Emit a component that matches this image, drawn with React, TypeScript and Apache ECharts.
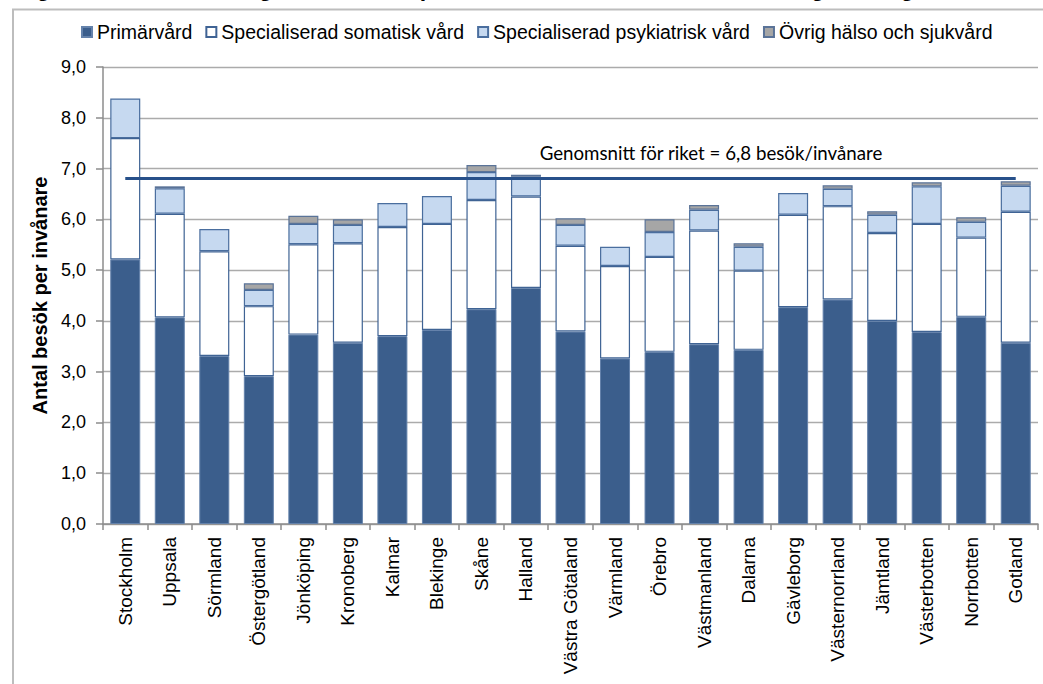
import React, { useEffect, useRef } from "react";
import * as echarts from "echarts";

// Landsting / regioner
const categories = [
  "Stockholm", "Uppsala", "Sörmland", "Östergötland", "Jönköping", "Kronoberg",
  "Kalmar", "Blekinge", "Skåne", "Halland", "Västra Götaland", "Värmland",
  "Örebro", "Västmanland", "Dalarna", "Gävleborg", "Västernorrland", "Jämtland",
  "Västerbotten", "Norrbotten", "Gotland",
];

// Antal besök per invånare, per vårdområde
const primarvard = [5.21, 4.07, 3.31, 2.91, 3.73, 3.57, 3.70, 3.82, 4.23, 4.65, 3.79, 3.26, 3.39, 3.54, 3.43, 4.27, 4.42, 4.00, 3.78, 4.08, 3.57];
const somatisk = [2.39, 2.04, 2.06, 1.38, 1.78, 1.96, 2.15, 2.09, 2.15, 1.80, 1.69, 1.82, 1.87, 2.24, 1.56, 1.82, 1.84, 1.73, 2.13, 1.56, 2.58];
const psykiatrisk = [0.78, 0.50, 0.44, 0.32, 0.40, 0.36, 0.47, 0.55, 0.55, 0.39, 0.41, 0.38, 0.49, 0.41, 0.47, 0.43, 0.34, 0.36, 0.74, 0.31, 0.51];
const ovrig = [null, 0.04, null, 0.13, 0.16, 0.11, null, null, 0.14, 0.04, 0.13, null, 0.25, 0.09, 0.07, null, 0.07, 0.07, 0.08, 0.09, 0.09];

const seriesNames = [
  "Primärvård",
  "Specialiserad somatisk vård",
  "Specialiserad psykiatrisk vård",
  "Övrig hälso och sjukvård",
];

const rikssnitt = 6.8;
const yTicks = { min: 0, max: 9, interval: 1 };

const FONT = "'Liberation Sans', Arial, sans-serif";

export default function App() {
  const ref = useRef<HTMLDivElement>(null);

  useEffect(() => {
    if (!ref.current) return;
    const chart = echarts.init(ref.current, null, { renderer: "svg" });

    const barBase = {
      type: "bar" as const,
      stack: "besok",
      barWidth: 30,
    };

    chart.setOption({
      animation: false,
      backgroundColor: "#ffffff",
      textStyle: { fontFamily: FONT },
      legend: {
        left: 76,
        top: 17,
        icon: "rect",
        itemWidth: 10,
        itemHeight: 10,
        itemGap: 13,
        textStyle: { fontSize: 19.5, color: "#000", fontFamily: FONT },
        data: seriesNames,
      },
      grid: { left: 103, right: 5, top: 67, bottom: 160, containLabel: false },
      xAxis: {
        type: "category",
        data: categories,
        axisLine: { lineStyle: { color: "#8c8c8c", width: 1.5 } },
        axisTick: { show: true, length: 6, lineStyle: { color: "#8c8c8c", width: 1.5 } },
        axisLabel: { rotate: 90, margin: 13, fontSize: 19, color: "#000", fontFamily: FONT, interval: 0 },
      },
      yAxis: {
        type: "value",
        min: yTicks.min,
        max: yTicks.max,
        interval: yTicks.interval,
        name: "Antal besök per invånare",
        nameLocation: "middle",
        nameGap: 49,
        nameTextStyle: { fontSize: 20, fontWeight: "bold", color: "#000", fontFamily: FONT },
        axisLine: { show: true, lineStyle: { color: "#8c8c8c", width: 1.5 } },
        axisTick: { show: true, length: 7, lineStyle: { color: "#8c8c8c", width: 1.5 } },
        axisLabel: {
          margin: 17,
          fontSize: 18,
          color: "#000",
          fontFamily: FONT,
          formatter: (v: number) => v.toFixed(1).replace(".", ","),
        },
        splitLine: { show: true, lineStyle: { color: "#ababab", width: 1.3 } },
      },
      series: [
        {
          ...barBase,
          name: seriesNames[0],
          data: primarvard,
          itemStyle: { color: "#3b5e8c", borderColor: "#6482ab", borderWidth: 1 },
        },
        {
          ...barBase,
          name: seriesNames[1],
          data: somatisk,
          itemStyle: { color: "#ffffff", borderColor: "#3f6394", borderWidth: 1.2 },
        },
        {
          ...barBase,
          name: seriesNames[2],
          data: psykiatrisk,
          itemStyle: { color: "#c6d9f0", borderColor: "#4a6e9e", borderWidth: 1.2 },
        },
        {
          ...barBase,
          name: seriesNames[3],
          data: ovrig,
          itemStyle: { color: "#a6a6a6", borderColor: "#5a7398", borderWidth: 1.2 },
          markLine: {
            silent: true,
            symbol: "none",
            label: { show: false },
            lineStyle: { color: "#27508a", width: 3, type: "solid" },
            data: [[
              { coord: [categories[0], rikssnitt] },
              { coord: [categories[categories.length - 1], rikssnitt] },
            ]],
          },
        },
      ],
      graphic: [
        {
          type: "polyline",
          shape: { points: [[13, 684], [13, 9.5], [1043, 9.5]] },
          style: { stroke: "#bdbdbd", lineWidth: 2, fill: "none" },
          silent: true,
        },
        {
          type: "text",
          x: 16,
          y: -24,
          style: {
            text: "Figur 12. Genomsnittligt antal besök per invånare och vårdform, landsting och region",
            font: `bold 23px ${FONT}`,
            fill: "#000",
            textVerticalAlign: "top",
          },
          silent: true,
        },
        {
          type: "text",
          x: 711,
          y: 153,
          style: {
            text: `Genomsnitt för riket = ${rikssnitt.toFixed(1).replace(".", ",")} besök/invånare`,
            font: "18.7px Lato, 'Open Sans', sans-serif",
            fill: "#000",
            textAlign: "center",
            textVerticalAlign: "middle",
          },
          silent: true,
        },
      ],
    });

    return () => chart.dispose();
  }, []);

  return (
    <div
      ref={ref}
      style={{ position: "fixed", left: 0, top: 0, width: 1043, height: 684 }}
    />
  );
}
